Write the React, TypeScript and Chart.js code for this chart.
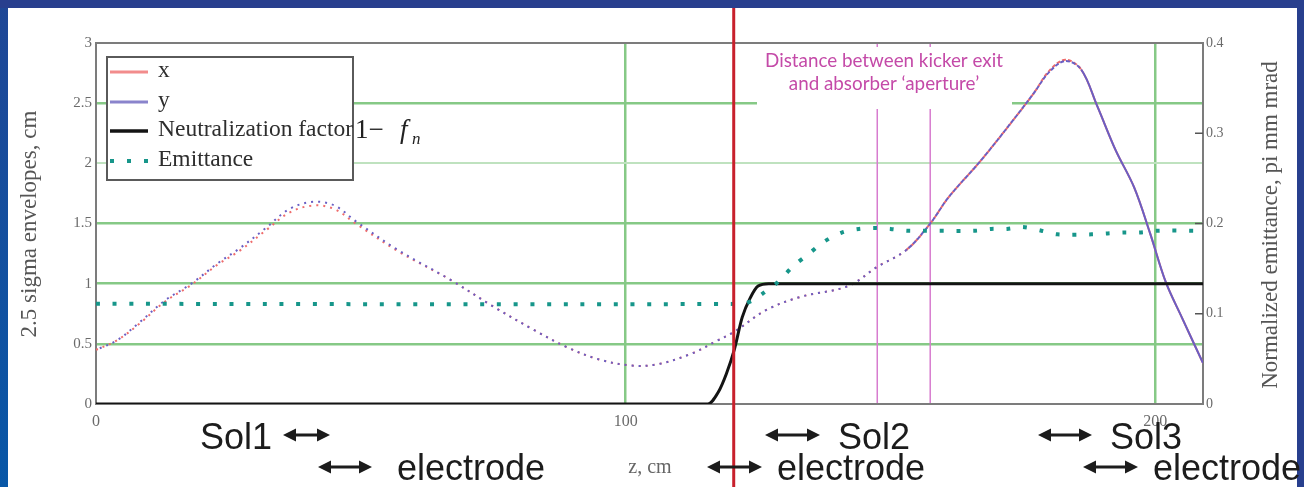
import React, { useEffect, useRef } from "react";
import { Chart, registerables } from "chart.js";
Chart.register(...registerables);

// ---- data ----
const zEnv = [0, 4, 8, 13, 18, 23, 27, 32, 36.5, 41, 45, 49, 57, 67, 75, 82.5, 89, 95, 101, 106, 112.5, 117, 120.5, 126.5, 133, 142, 147.5, 153, 157.5, 161, 167, 173, 177, 180, 183, 186, 189, 192.5, 196, 199, 202, 205, 209];
const envY = [0.45, 0.53, 0.67, 0.86, 1.0, 1.17, 1.29, 1.46, 1.62, 1.68, 1.65, 1.52, 1.28, 1.03, 0.81, 0.62, 0.47, 0.37, 0.32, 0.33, 0.42, 0.52, 0.6, 0.78, 0.89, 0.98, 1.14, 1.28, 1.5, 1.72, 2.02, 2.35, 2.58, 2.76, 2.85, 2.78, 2.48, 2.11, 1.8, 1.42, 1.01, 0.72, 0.34];
const envX = [0.45, 0.53, 0.66, 0.85, 0.99, 1.16, 1.27, 1.44, 1.59, 1.65, 1.62, 1.5, 1.27, 1.03, 0.81, 0.62, 0.47, 0.37, 0.32, 0.33, 0.42, 0.52, 0.6, 0.78, 0.89, 0.98, 1.14, 1.28, 1.5, 1.72, 2.02, 2.35, 2.58, 2.77, 2.86, 2.78, 2.48, 2.11, 1.8, 1.42, 1.01, 0.72, 0.34];
const zNeut = [0, 115.5, 117.5, 119, 120.5, 122, 123.5, 125, 127, 209];
const neut = [0, 0, 0.1, 0.25, 0.45, 0.72, 0.88, 0.98, 1.0, 1.0];
const zEmit = [0, 122, 124, 126, 128.7, 131.5, 134.7, 137.5, 140.8, 144, 147, 150, 153, 156, 166, 169, 172, 175, 178.5, 181.5, 188, 191, 194, 197, 200.5, 209];
const emit = [0.111, 0.111, 0.115, 0.123, 0.135, 0.152, 0.167, 0.18, 0.19, 0.194, 0.195, 0.194, 0.192, 0.192, 0.192, 0.194, 0.194, 0.196, 0.192, 0.188, 0.188, 0.189, 0.19, 0.19, 0.192, 0.192];
const xTicks = [0, 100, 200];
const yLeftTicks = [0, 0.5, 1, 1.5, 2, 2.5, 3];
const yRightTicks = [0, 0.1, 0.2, 0.3, 0.4];
const zRedLine = 120.4;
const zMagentaLines = [147.5, 157.5];
const legendLabels = ["x", "y", "Neutralization factor", "Emittance"];
const noteLines = ["Distance between kicker exit", "and absorber \u2018aperture\u2019"];

const pts = (xs: number[], ys: number[]) => xs.map((x, i) => ({ x, y: ys[i] }));

const SERIF = "'Liberation Serif', 'DejaVu Serif', serif";
const SANS = "'Liberation Sans', Arial, sans-serif";

function arrow(ctx: CanvasRenderingContext2D, x1: number, x2: number, y: number) {
  const head = 13, hh = 6.5, t = 3;
  ctx.fillStyle = "#1c1c1c";
  ctx.fillRect(x1 + head - 1, y - t / 2, x2 - x1 - 2 * head + 2, t);
  ctx.beginPath(); ctx.moveTo(x1, y); ctx.lineTo(x1 + head, y - hh); ctx.lineTo(x1 + head, y + hh); ctx.closePath(); ctx.fill();
  ctx.beginPath(); ctx.moveTo(x2, y); ctx.lineTo(x2 - head, y - hh); ctx.lineTo(x2 - head, y + hh); ctx.closePath(); ctx.fill();
}

const overlay = {
  id: "overlay",
  beforeDraw(chart: any) {
    const ctx = chart.ctx as CanvasRenderingContext2D;
    const W = chart.width, H = chart.height;
    ctx.save();
    ctx.fillStyle = "#283f8e";
    ctx.fillRect(0, 0, W, H);
    const g = ctx.createLinearGradient(0, 0, 0, H);
    g.addColorStop(0, "#1f4796");
    g.addColorStop(1, "#0857a7");
    ctx.fillStyle = g;
    ctx.fillRect(0, 8, 8, H - 8);
    ctx.fillStyle = "#ffffff";
    ctx.fillRect(8, 8, W - 15, H - 8);
    ctx.restore();
  },
  beforeDatasetsDraw(chart: any) {
    const ctx = chart.ctx as CanvasRenderingContext2D;
    const a = chart.chartArea;
    const xs = chart.scales.x;
    ctx.save();
    ctx.strokeStyle = "#d77ccf";
    ctx.lineWidth = 1.5;
    zMagentaLines.forEach((z) => {
      const px = xs.getPixelForValue(z);
      ctx.beginPath(); ctx.moveTo(px, a.top); ctx.lineTo(px, a.bottom); ctx.stroke();
    });
    ctx.fillStyle = "#ffffff";
    ctx.fillRect(757, a.top + 4, 255, 62);
    ctx.fillStyle = "#c44aa8";
    ctx.textAlign = "center";
    ctx.textBaseline = "alphabetic";
    const cx = 884;
    const target = 238;
    ctx.font = `15px Lato, 'Open Sans', sans-serif`;
    const w0 = ctx.measureText(noteLines[0]).width;
    const fs = 15 * target / w0;
    ctx.font = `${fs}px Lato, 'Open Sans', sans-serif`;
    ctx.fillText(noteLines[0], cx, 67);
    ctx.fillText(noteLines[1], cx, 90);
    ctx.strokeStyle = "#7c7c7c";
    ctx.lineWidth = 2;
    ctx.strokeRect(a.left, a.top, a.right - a.left, a.bottom - a.top);
    const yr = chart.scales.y2;
    ctx.strokeStyle = "#555";
    ctx.lineWidth = 1.5;
    [0.1, 0.2, 0.3].forEach((v) => {
      const py = yr.getPixelForValue(v);
      ctx.beginPath(); ctx.moveTo(a.right - 8, py); ctx.lineTo(a.right, py); ctx.stroke();
    });
    ctx.restore();
  },
  afterDraw(chart: any) {
    const ctx = chart.ctx as CanvasRenderingContext2D;
    const xs = chart.scales.x;
    ctx.save();
    // legend
    const lx = 107, ly = 57, lw = 246, lh = 123;
    ctx.fillStyle = "#fff";
    ctx.fillRect(lx, ly, lw, lh);
    ctx.strokeStyle = "#5a5a5a";
    ctx.lineWidth = 2;
    ctx.strokeRect(lx, ly, lw, lh);
    const rows = [72, 102, 131, 161];
    const cols = ["#f28c8c", "#8a84cc", "#141414", "#17968a"];
    rows.forEach((ry, i) => {
      if (i === 3) {
        ctx.fillStyle = cols[i];
        [110, 127, 144].forEach((dx) => ctx.fillRect(dx, ry - 2, 4, 4));
      } else {
        ctx.strokeStyle = cols[i];
        ctx.lineWidth = i === 2 ? 3.5 : 3;
        ctx.beginPath(); ctx.moveTo(110, ry); ctx.lineTo(148, ry); ctx.stroke();
      }
    });
    ctx.fillStyle = "#2e2e2e";
    ctx.textAlign = "left";
    ctx.textBaseline = "middle";
    ctx.font = `23.5px ${SERIF}`;
    legendLabels.forEach((t, i) => ctx.fillText(t, 158, rows[i] - 1));
    ctx.fillStyle = "#222";
    ctx.font = `27px ${SERIF}`;
    ctx.fillText("1\u2212", 355, 131);
    ctx.font = `italic 27px ${SERIF}`;
    ctx.fillText("f", 400, 131);
    ctx.font = `italic 17px ${SERIF}`;
    ctx.fillText("n", 412, 140);

    // axis titles
    ctx.fillStyle = "#555";
    ctx.textAlign = "center";
    ctx.textBaseline = "middle";
    ctx.font = `23px ${SERIF}`;
    ctx.save();
    ctx.translate(30, 224);
    ctx.rotate(-Math.PI / 2);
    ctx.fillText("2.5 sigma envelopes, cm", 0, 0);
    ctx.restore();
    ctx.save();
    ctx.translate(1271, 225);
    ctx.rotate(-Math.PI / 2);
    ctx.fillText("Normalized emittance, pi mm mrad", 0, 0);
    ctx.restore();
    ctx.font = `20px ${SERIF}`;
    ctx.fillStyle = "#666";
    ctx.fillText("z, cm", 650, 468);

    // red line
    const rx = xs.getPixelForValue(zRedLine);
    ctx.strokeStyle = "#c8202c";
    ctx.lineWidth = 3;
    ctx.beginPath(); ctx.moveTo(rx, 8); ctx.lineTo(rx, chart.height); ctx.stroke();

    // bottom annotations
    ctx.fillStyle = "#1c1c1c";
    ctx.textAlign = "left";
    ctx.textBaseline = "alphabetic";
    ctx.font = `36px ${SANS}`;
    ctx.fillText("Sol1", 200, 449);
    ctx.fillText("electrode", 397, 480);
    ctx.fillText("electrode", 777, 480);
    ctx.fillText("Sol2", 838, 449);
    ctx.fillText("Sol3", 1110, 449);
    ctx.fillText("electrode", 1153, 480);
    arrow(ctx, 283, 330, 435);
    arrow(ctx, 318, 372, 467);
    arrow(ctx, 707, 762, 467);
    arrow(ctx, 765, 820, 435);
    arrow(ctx, 1038, 1092, 435);
    arrow(ctx, 1083, 1138, 467);
    ctx.restore();
  },
};

export default function App() {
  const ref = useRef<HTMLCanvasElement | null>(null);
  useEffect(() => {
    if (!ref.current) return;
    const dashFor = (ctx: any) => {
      const z = ctx.p0.parsed.x;
      if (z >= 185) return [];
      if (z >= 152) return [4, 2];
      return [2, 5];
    };
    const chart = new Chart(ref.current, {
      type: "line",
      data: {
        datasets: [
          {
            label: "x", data: pts(zEnv, envX), borderColor: "#ef6c6c", borderWidth: 2,
            pointRadius: 0, tension: 0.35, yAxisID: "y", order: 3, segment: { borderDash: dashFor },
          },
          {
            label: "y", data: pts(zEnv, envY), borderColor: "#6a5fc4", borderWidth: 2,
            pointRadius: 0, tension: 0.35, yAxisID: "y", order: 2, borderDashOffset: 3, segment: { borderDash: dashFor },
          },
          {
            label: "Neutralization factor", data: pts(zNeut, neut), borderColor: "#141414", borderWidth: 3,
            pointRadius: 0, cubicInterpolationMode: "monotone", yAxisID: "y", order: 1,
          },
          {
            label: "Emittance", data: pts(zEmit, emit), borderColor: "#17968a", borderWidth: 4,
            pointRadius: 0, tension: 0.3, yAxisID: "y2", order: 0, borderDash: [4, 12.7], borderCapStyle: "butt",
          },
        ],
      },
      options: {
        animation: false,
        responsive: false,
        devicePixelRatio: 1,
        layout: { padding: { top: 43, left: 0, right: 0, bottom: 0 } },
        plugins: { legend: { display: false }, tooltip: { enabled: false } },
        scales: {
          x: {
            type: "linear", min: 0, max: 209, position: "bottom",
            afterBuildTicks: (s: any) => { s.ticks = xTicks.map((value) => ({ value })); },
            afterFit: (s: any) => { s.height = 83; },
            grid: {
              color: (c: any) => (c.tick && c.tick.value > 0 ? "#86c986" : "rgba(0,0,0,0)"),
              lineWidth: 2.5, drawTicks: false,
            },
            border: { display: false },
            ticks: { font: { family: SERIF, size: 16 }, color: "#6a6a6a", padding: 8, maxRotation: 0, callback: (v: any) => String(v) },
          },
          y: {
            type: "linear", min: 0, max: 3, position: "left",
            afterBuildTicks: (s: any) => { s.ticks = yLeftTicks.map((value) => ({ value })); },
            afterFit: (s: any) => { s.width = 96; },
            grid: {
              color: (c: any) => {
                const v = c.tick ? c.tick.value : 0;
                if (v <= 0 || v >= 3) return "rgba(0,0,0,0)";
                if (v === 2) return "#bfe2bf";
                return "#86c986";
              },
              lineWidth: (c: any) => (c.tick && c.tick.value === 2 ? 2 : 2.5),
              drawTicks: false,
            },
            border: { display: false },
            ticks: { font: { family: SERIF, size: 15 }, color: "#6a6a6a", padding: 4, callback: (v: any) => String(v) },
          },
          y2: {
            type: "linear", min: 0, max: 0.4, position: "right",
            afterBuildTicks: (s: any) => { s.ticks = yRightTicks.map((value) => ({ value })); },
            afterFit: (s: any) => { s.width = 101; },
            grid: { display: false, drawTicks: false },
            border: { display: false },
            ticks: { font: { family: SERIF, size: 14 }, color: "#6a6a6a", padding: 3, callback: (v: any) => String(v) },
          },
        },
      },
      plugins: [overlay],
    } as any);
    return () => chart.destroy();
  }, []);
  return (
    <div style={{ position: "absolute", left: 0, top: 0, width: 1304, height: 487 }}>
      <canvas ref={ref} width={1304} height={487} style={{ width: 1304, height: 487, display: "block" }} />
    </div>
  );
}
